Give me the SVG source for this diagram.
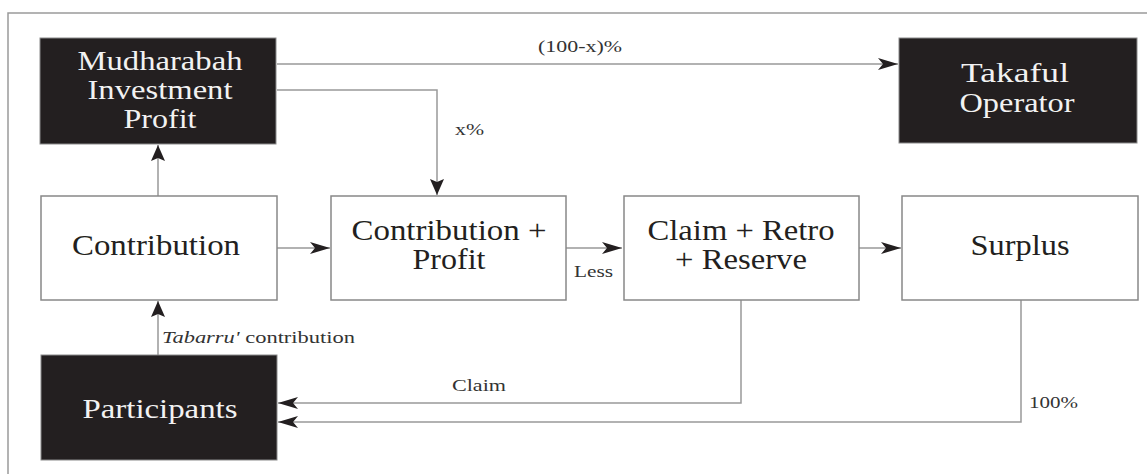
<svg xmlns="http://www.w3.org/2000/svg" width="1147" height="475" viewBox="0 0 1147 475">
<defs>
<style>
.frame{fill:none;stroke:#9a9a9a;stroke-width:1.5}
.dark{fill:#231f20;stroke:#8a8a8a;stroke-width:1}
.light{fill:#fff;stroke:#888;stroke-width:1.5}
text{font-family:'Liberation Serif','Times New Roman','DejaVu Serif',serif}
.wt{font-size:28px;fill:#f2f2f2;text-anchor:middle}
.bt{font-size:29px;fill:#231f20;text-anchor:middle}
.lbl{font-size:16px;fill:#333}
.conn{fill:none;stroke:#999;stroke-width:1.5}
</style>
<marker id="arrw" viewBox="0 0 20 12" refX="20" refY="6" markerWidth="20" markerHeight="12" markerUnits="userSpaceOnUse" orient="auto">
<path d="M0,0 L20,6 L0,12 L5,6 Z" fill="#231f20"/>
</marker>
<marker id="arrv" viewBox="0 0 16 14" refX="16" refY="7" markerWidth="16" markerHeight="14" markerUnits="userSpaceOnUse" orient="auto">
<path d="M0,0 L16,7 L0,14 L3,7 Z" fill="#231f20"/>
</marker>
</defs>
<path class="frame" d="M8,474 L8,13 L1147,13"/>

<g id="connectors">
<path class="conn" d="M277,64 L898,64" marker-end="url(#arrw)"/>
<path class="conn" d="M277,90 L437,90 L437,195" marker-end="url(#arrv)"/>
<path class="conn" d="M158,196 L158,145" marker-end="url(#arrv)"/>
<path class="conn" d="M158,355 L158,301" marker-end="url(#arrv)"/>
<path class="conn" d="M277,248 L330,248" marker-end="url(#arrw)"/>
<path class="conn" d="M566,248 L622,248" marker-end="url(#arrw)"/>
<path class="conn" d="M859,248 L901,248" marker-end="url(#arrw)"/>
<path class="conn" d="M741,300 L741,403 L278,403" marker-end="url(#arrw)"/>
<path class="conn" d="M1021,300 L1021,422 L278,422" marker-end="url(#arrw)"/>
<text class="lbl" x="538" y="52" textLength="84" lengthAdjust="spacingAndGlyphs">(100-x)%</text>
<text class="lbl" x="455" y="135" textLength="29" lengthAdjust="spacingAndGlyphs">x%</text>
<text class="lbl" x="574" y="277" font-size="15" textLength="39" lengthAdjust="spacingAndGlyphs">Less</text>
<text class="lbl" x="162" y="343" textLength="193" lengthAdjust="spacingAndGlyphs"><tspan font-style="italic">Tabarru'</tspan> contribution</text>
<text class="lbl" x="452" y="391" textLength="54" lengthAdjust="spacingAndGlyphs">Claim</text>
<text class="lbl" x="1029" y="408" textLength="49" lengthAdjust="spacingAndGlyphs">100%</text>
</g>

<g id="mudharabah">
<rect class="dark" x="40" y="38" width="236" height="106"/>
<text class="wt" x="160" y="70" textLength="165" lengthAdjust="spacingAndGlyphs">Mudharabah</text>
<text class="wt" x="160" y="99" textLength="145" lengthAdjust="spacingAndGlyphs">Investment</text>
<text class="wt" x="160" y="128" textLength="73" lengthAdjust="spacingAndGlyphs">Profit</text>
</g>
<g id="takaful">
<rect class="dark" x="899" y="38" width="238" height="105"/>
<text class="wt" x="1015" y="82" textLength="108" lengthAdjust="spacingAndGlyphs">Takaful</text>
<text class="wt" x="1017" y="112" textLength="115" lengthAdjust="spacingAndGlyphs">Operator</text>
</g>
<g id="contribution">
<rect class="light" x="41" y="196" width="236" height="104"/>
<text class="bt" x="156" y="255" textLength="168" lengthAdjust="spacingAndGlyphs">Contribution</text>
</g>
<g id="contribution-profit">
<rect class="light" x="331" y="196" width="235" height="104"/>
<text class="bt" x="449" y="240" textLength="195" lengthAdjust="spacingAndGlyphs">Contribution +</text>
<text class="bt" x="449" y="269" textLength="73" lengthAdjust="spacingAndGlyphs">Profit</text>
</g>
<g id="claim">
<rect class="light" x="624" y="196" width="235" height="104"/>
<text class="bt" x="741" y="240" textLength="187" lengthAdjust="spacingAndGlyphs">Claim + Retro</text>
<text class="bt" x="741" y="269" textLength="132" lengthAdjust="spacingAndGlyphs">+ Reserve</text>
</g>
<g id="surplus">
<rect class="light" x="902" y="196" width="236" height="104"/>
<text class="bt" x="1020" y="255" textLength="99" lengthAdjust="spacingAndGlyphs">Surplus</text>
</g>
<g id="participants">
<rect class="dark" x="41" y="355" width="236" height="105"/>
<text class="wt" x="160" y="418" textLength="155" lengthAdjust="spacingAndGlyphs">Participants</text>
</g>
</svg>
